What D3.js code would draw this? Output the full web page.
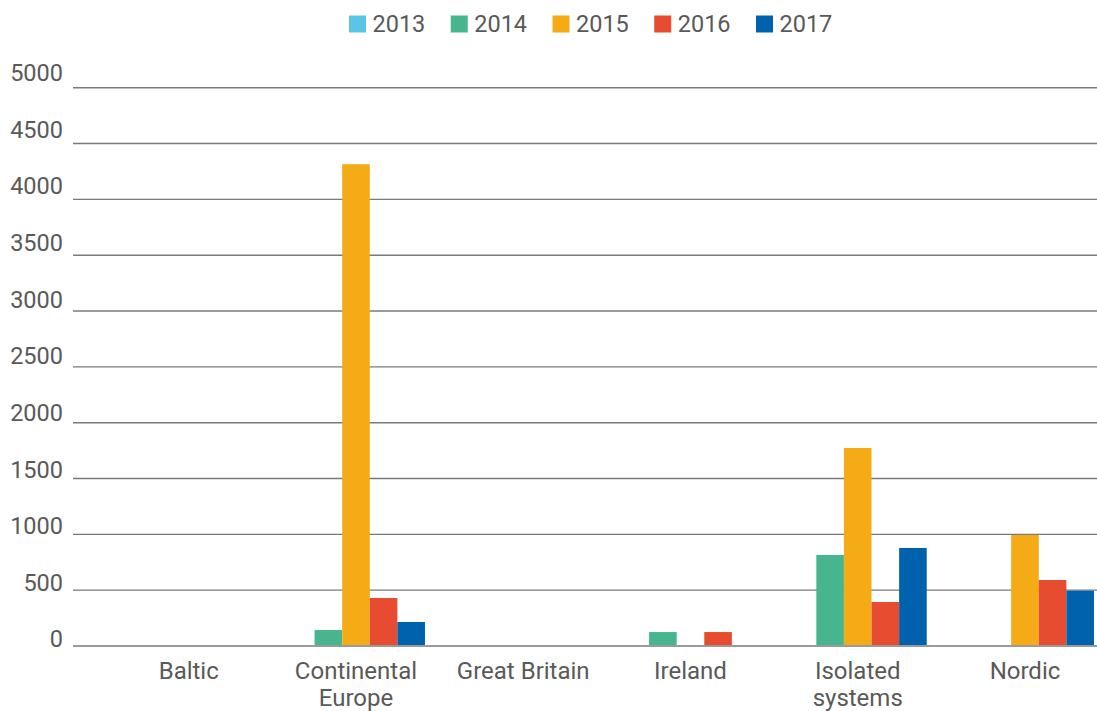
<!DOCTYPE html>
<html>
<head>
<meta charset="utf-8">
<script src="https://cdn.jsdelivr.net/npm/d3@7"></script>
<style>
  html, body { margin: 0; padding: 0; background: #fff; }
  svg { display: block; font-family: Roboto, "Noto Sans", sans-serif; }
</style>
</head>
<body>
<svg id="chart" width="1097" height="711"></svg>
<script>
// Regions and years
const categories = ["Baltic", "Continental Europe", "Great Britain", "Ireland", "Isolated systems", "Nordic"];
const years = ["2013", "2014", "2015", "2016", "2017"];
const colors = ["#5bc5e6", "#47b68e", "#f4ab15", "#e84c30", "#0062ac"];

// Values per year, one entry per region (0 = no bar)
const v2013 = [0, 0, 0, 0, 0, 0];
const v2014 = [0, 143, 0, 125, 815, 0];
const v2015 = [0, 4315, 0, 0, 1773, 994];
const v2016 = [0, 430, 0, 125, 394, 591];
const v2017 = [0, 215, 0, 0, 878, 495];
const seriesValues = [v2013, v2014, v2015, v2016, v2017];

const yTicks = [0, 500, 1000, 1500, 2000, 2500, 3000, 3500, 4000, 4500, 5000];

const svg = d3.select("#chart");
const textColor = "#595959";

const y = d3.scaleLinear().domain([0, 5000]).range([646, 87.7]);
// tick labels sit slightly above their gridlines, spreading a little toward the top
const yLabel = d3.scaleLinear().domain([0, 5000]).range([639, 72.7]);

const x0 = d3.scaleBand().domain(categories).range([105.1, 1108.6]).padding(0);
const x1 = d3.scaleBand().domain(years).range([0, x0.bandwidth()])
  .paddingInner(0).paddingOuter(0.53);

// gridlines
svg.append("g").selectAll("line")
  .data(yTicks)
  .join("line")
  .attr("x1", 73).attr("x2", 1097)
  .attr("y1", d => y(d)).attr("y2", d => y(d))
  .attr("stroke", d => d === 0 ? "#9a9a9a" : "#7a7a7a")
  .attr("stroke-width", d => d === 0 ? 2 : 1.4);

// y tick labels
svg.append("g").selectAll("text")
  .data(yTicks)
  .join("text")
  .attr("x", 63)
  .attr("y", d => yLabel(d))
  .attr("dy", "0.36em")
  .attr("text-anchor", "end")
  .attr("font-size", 23.5)
  .attr("fill", textColor)
  .text(d => d);

// bars
const bars = [];
categories.forEach((c, ci) => {
  years.forEach((yr, si) => {
    const v = seriesValues[si][ci];
    if (v > 0) bars.push({ c, yr, v, color: colors[si] });
  });
});
svg.append("g").selectAll("rect")
  .data(bars)
  .join("rect")
  .attr("x", d => x0(d.c) + x1(d.yr))
  .attr("width", x1.bandwidth())
  .attr("y", d => y(d.v))
  .attr("height", d => y(0) - y(d.v) - 1)
  .attr("fill", d => d.color);

// category labels (wrapped onto two lines where needed)
const catLines = {
  "Continental Europe": ["Continental", "Europe"],
  "Isolated systems": ["Isolated", "systems"]
};
const xl = svg.append("g").selectAll("text")
  .data(categories)
  .join("text")
  .attr("x", d => x0(d) + x0.bandwidth() / 2)
  .attr("y", 679)
  .attr("text-anchor", "middle")
  .attr("font-size", 24)
  .attr("fill", textColor);
xl.each(function(d) {
  const lines = catLines[d] || [d];
  const t = d3.select(this);
  lines.forEach((ln, i) => {
    t.append("tspan")
      .attr("x", x0(d) + x0.bandwidth() / 2)
      .attr("dy", i === 0 ? 0 : 27)
      .text(ln);
  });
});

// legend
const legendX = d3.scalePoint().domain(years).range([349, 756]);
const lg = svg.append("g").selectAll("g")
  .data(years)
  .join("g")
  .attr("transform", d => `translate(${legendX(d)},0)`);
lg.append("rect")
  .attr("x", 0).attr("y", 15.5)
  .attr("width", 17).attr("height", 17)
  .attr("fill", (d, i) => colors[i]);
lg.append("text")
  .attr("x", 23.5).attr("y", 24)
  .attr("dy", "0.36em")
  .attr("font-size", 23.5)
  .attr("fill", textColor)
  .text(d => d);
</script>
</body>
</html>
